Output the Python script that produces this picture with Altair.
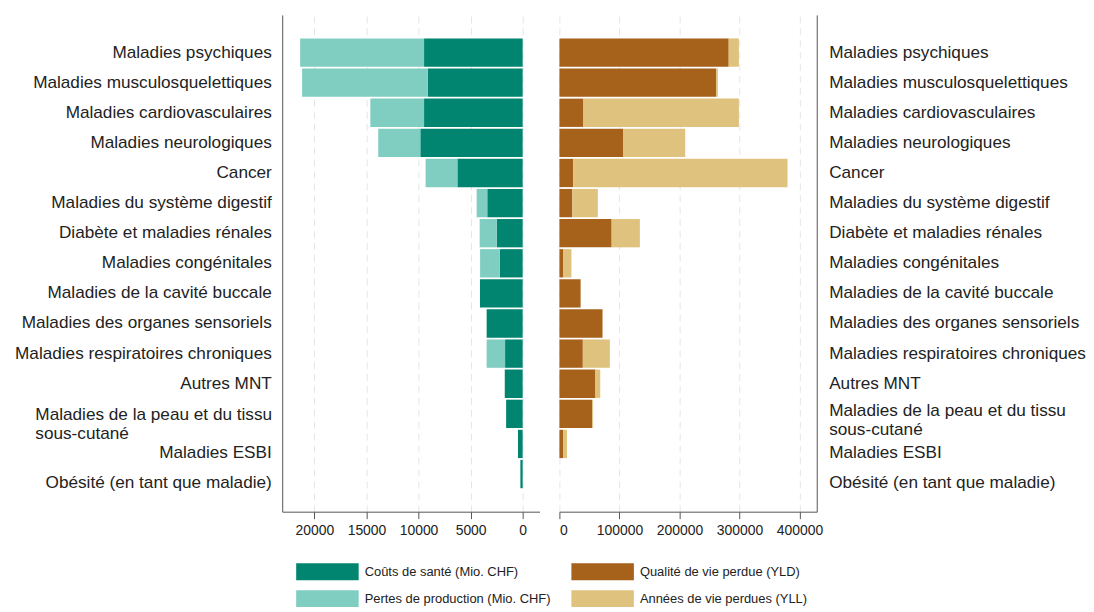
import altair as alt
import pandas as pd

categories = [
    "Maladies psychiques",
    "Maladies musculosquelettiques",
    "Maladies cardiovasculaires",
    "Maladies neurologiques",
    "Cancer",
    "Maladies du système digestif",
    "Diabète et maladies rénales",
    "Maladies congénitales",
    "Maladies de la cavité buccale",
    "Maladies des organes sensoriels",
    "Maladies respiratoires chroniques",
    "Autres MNT",
    "Maladies de la peau et du tissu|sous-cutané",
    "Maladies ESBI",
    "Obésité (en tant que maladie)",
]

couts_sante = [9470, 9100, 9470, 9830, 6270, 3400, 2480, 2190, 4100, 3460, 1690, 1720, 1590, 450, 220]
pertes_production = [11900, 12080, 5160, 4040, 3050, 1020, 1650, 1900, 0, 0, 1770, 0, 0, 0, 0]
yld = [282000, 261000, 40000, 106600, 23000, 21500, 87000, 6000, 35300, 71800, 39000, 60000, 54700, 6000, 0]
yll = [17000, 3000, 259000, 103000, 357000, 42500, 47000, 14000, 0, 0, 45000, 8000, 1500, 6600, 0]

left_series = ["Coûts de santé (Mio. CHF)", "Pertes de production (Mio. CHF)"]
right_series = ["Qualité de vie perdue (YLD)", "Années de vie perdues (YLL)"]
left_colors = ["#018571", "#80cdc1"]
right_colors = ["#a6611a", "#dfc27d"]
left_ticks = [20000, 15000, 10000, 5000, 0]
right_ticks = [0, 100000, 200000, 300000, 400000]

rows_l, rows_r = [], []
for c, a, b, d, e in zip(categories, couts_sante, pertes_production, yld, yll):
    rows_l.append({"cat": c, "serie": left_series[0], "val": a, "ord": 0})
    rows_l.append({"cat": c, "serie": left_series[1], "val": b, "ord": 1})
    rows_r.append({"cat": c, "serie": right_series[0], "val": d, "ord": 0})
    rows_r.append({"cat": c, "serie": right_series[1], "val": e, "ord": 1})
df_l = pd.DataFrame(rows_l)
df_r = pd.DataFrame(rows_r)

FONT = "Liberation Sans"
W, H = 259, 500
LEG_PATH = "M-3.7,-1L3.7,-1L3.7,1L-3.7,1Z"

PEAU = "datum.value == 'Maladies de la peau et du tissu|sous-cutané'"
LOW = "datum.value == 'Maladies ESBI' || datum.value == 'Obésité (en tant que maladie)'"

y_scale = alt.Scale(domain=categories, paddingInner=0.06, paddingOuter=0.78)


def legend(x):
    return alt.Legend(
        title=None, orient="none", legendX=x, legendY=552,
        symbolType=LEG_PATH, symbolSize=289, symbolStrokeWidth=0, symbolOpacity=1,
        labelOffset=29, rowPadding=10, labelFontSize=13, labelFont=FONT,
        labelColor="#222222", labelLimit=400, direction="vertical",
    )


def xaxis(vals):
    return alt.Axis(
        values=vals, format="d", title=None, grid=True, gridColor="#e6e6e6",
        gridDash=[7, 5], tickSize=7, labelFontSize=14, labelFont=FONT,
        labelColor="#222222", domainColor="#555555", tickColor="#555555",
        labelPadding=5,
    )


def yaxis(orient, pad, peau_off, align=None, peau_pad=None):
    kw = dict(
        orient=orient, title=None, ticks=False, grid=False, domain=True,
        domainColor="#555555", labelFontSize=17.3, labelFont=FONT,
        labelColor="#222222", labelLimit=400,
        labelExpr="split(datum.label, '|')", labelLineHeight=19,
        labelOffset={"condition": [{"test": PEAU, "value": peau_off},
                                   {"test": LOW, "value": 9}], "value": 0},
    )
    if peau_pad is not None:
        kw["labelPadding"] = {"condition": {"test": PEAU, "value": peau_pad}, "value": pad}
        kw["labelAlign"] = {"condition": {"test": PEAU, "value": "left"}, "value": align}
    else:
        kw["labelPadding"] = pad
    return alt.Axis(**kw)


left = alt.Chart(df_l).mark_bar().encode(
    y=alt.Y("cat:N", sort=categories, scale=y_scale,
            axis=yaxis("left", 11, 1, align="right", peau_pad=249)),
    x=alt.X("val:Q", stack="zero",
            scale=alt.Scale(domain=[-1620, 23090], reverse=True, nice=False, zero=False),
            axis=xaxis(left_ticks)),
    color=alt.Color("serie:N", scale=alt.Scale(domain=left_series, range=left_colors),
                    legend=legend(37)),
    order=alt.Order("ord:Q"),
).properties(width=W, height=H)

right = alt.Chart(df_r).mark_bar().encode(
    y=alt.Y("cat:N", sort=categories, scale=y_scale, axis=yaxis("right", 12, -3)),
    x=alt.X("val:Q", stack="zero",
            scale=alt.Scale(domain=[0, 428700], nice=False, zero=False),
            axis=xaxis(right_ticks)),
    color=alt.Color("serie:N", scale=alt.Scale(domain=right_series, range=right_colors),
                    legend=legend(35)),
    order=alt.Order("ord:Q"),
).properties(width=W, height=H)

chart = alt.hconcat(left, right, spacing=20, bounds="flush").resolve_scale(
    color="independent", x="independent", y="independent"
).properties(
    padding={"left": 6, "top": 5, "right": 0, "bottom": 2}
).configure_view(stroke=None)

chart.save("out.html", embed_options={"renderer": "svg", "actions": False})
